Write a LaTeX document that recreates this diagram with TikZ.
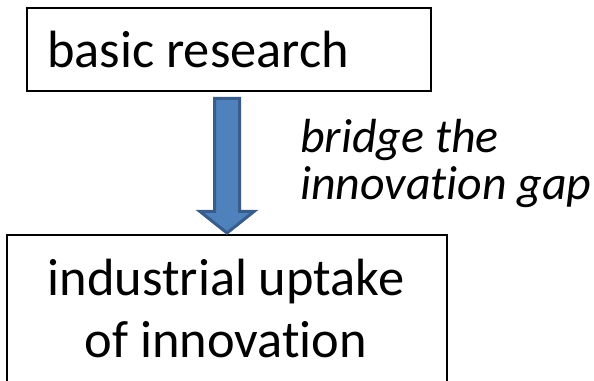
\documentclass[tikz,border=0pt]{standalone}
\usepackage{fontspec}
\setmainfont{Carlito}[Ligatures=NoCommon]
\usetikzlibrary{calc}
\definecolor{arrowfill}{HTML}{4F81BD}
\definecolor{arrowline}{HTML}{385D8A}
\tikzset{
  box/.style={draw=black, line width=1.5pt, fill=white, inner sep=0pt},
  bigtext/.style={inner sep=0pt, font=\fontsize{39.3}{46.5}\selectfont},
  gaptext/.style={inner sep=0pt, align=left, font=\itshape\fontsize{35.9}{35.25}\selectfont},
  blockarrow/.style={fill=arrowfill, draw=arrowline, line width=2.25pt, line join=miter}
}
\begin{document}
\begin{tikzpicture}[x=0.75pt, y=-0.75pt]
\useasboundingbox (0,0) rectangle (594,381);
\clip (0,0) rectangle (594,381);
% boxes
\node[box, minimum width=303pt, minimum height=62.25pt] (top) at (229,49.5) {};
\node[box, minimum width=330pt, minimum height=123.75pt] (bottom) at (227,317.5) {};
% texts
\node[bigtext, anchor=base west] (toptext) at (47,68) {basic research};
\node[bigtext, anchor=base, align=center] (bottomtext) at (226,358) {industrial uptake\\of innovation};
\node[gaptext, anchor=base west] (gap) at (300,200) {bridge the\\innovation gap};
% block arrow from top box to bottom box
\coordinate (as) at ($(top.south)+(-2,6.5)$);
\coordinate (ae) at ($(bottom.north)+(0,-1)$);
\draw[blockarrow]
  ($(as)+(-12.5,0)$) -- ($(as)+(12.5,0)$) -- ($(as)+(12.5,113)$) -- ($(as)+(27,113)$)
  -- (ae) -- ($(as)+(-27,113)$) -- ($(as)+(-12.5,113)$) -- cycle;
\end{tikzpicture}
\end{document}
